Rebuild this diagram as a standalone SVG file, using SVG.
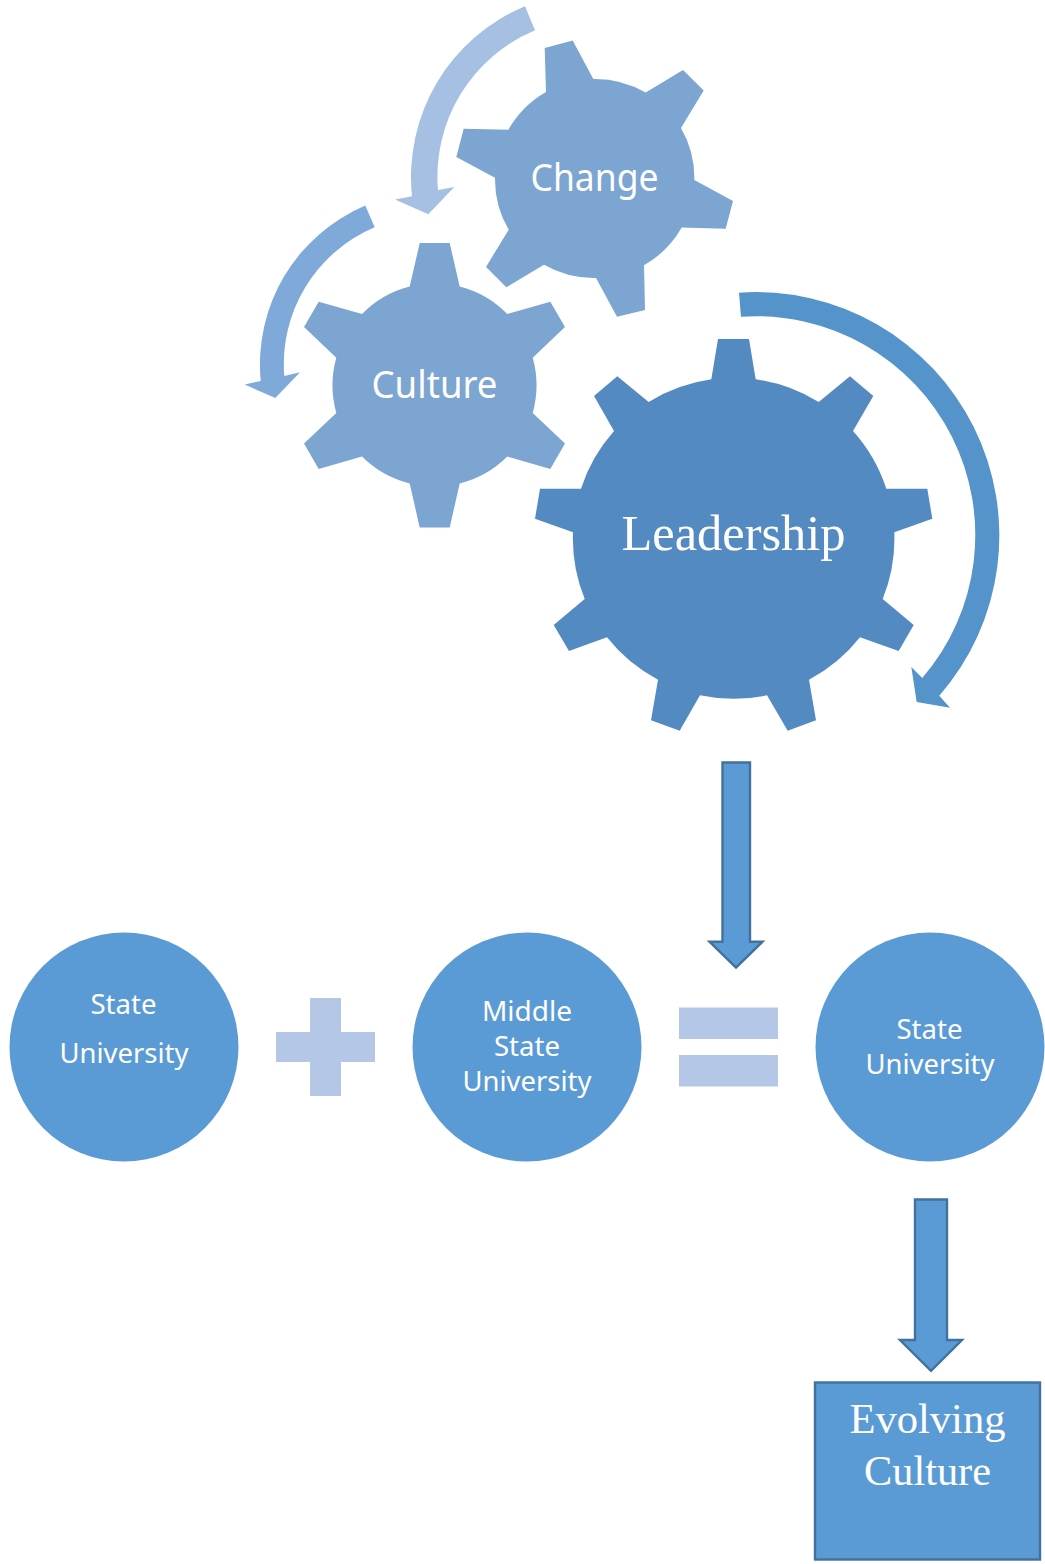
<svg xmlns="http://www.w3.org/2000/svg" width="1045" height="1564" viewBox="0 0 1045 1564">
<style>
.sans{font-family:"Noto Sans","Open Sans",sans-serif;fill:#fff;text-anchor:middle}
.serif{font-family:"Liberation Serif",serif;fill:#fff;text-anchor:middle}
.small{font-size:27.5px}
.gear{font-size:38px}
.circ{fill:#5b9bd5}
.sym{fill:#b4c7e7}
.block{fill:#5b9bd5;stroke:#41719c;stroke-width:2.4}
</style>
<rect width="1045" height="1564" fill="#fff"/>
<g id="connectors">
<path id="arrow-change" fill="#a5c0e3" d="M525 6.2A185 185 0 0 0 412 196.3L395 199.4L428.3 214.2L454.3 187L438 190A158.5 158.5 0 0 1 535 30.3Z"/>
<path id="arrow-culture" fill="#7fa9d8" d="M365.3 205.6A172.5 172.5 0 0 0 260.7 380.9L244.7 384.6L275.3 398L300 372.2L284.3 376A148.5 148.5 0 0 1 374.7 227.3Z"/>
<path id="arrow-leadership" fill="#5593cb" d="M739 292.7A243.5 243.5 0 0 1 939.3 695.7L950 707.7L916.7 702L911.3 667L922.3 678A219 219 0 0 0 741 316.7Z"/>
<path id="arrow-down-1" class="block" d="M722.5 762.5H750V941.7H762.5L736 967.5L709.5 941.7H722.5Z"/>
<path id="arrow-down-2" class="block" d="M915 1199.5H947V1340H962L931 1370.8L900 1340H915Z"/>
</g>
<g id="node-change">
<path fill="#7ca5d2" d="M544.7 47.9L572.7 40.6L593.3 78.9A99.6 99.6 0 0 1 645.7 92.6L683 69.9L703.7 90.6L681 128.1A99.6 99.6 0 0 1 694.3 180.1L733 201.1L725.7 228.7L681.7 227.6A99.6 99.6 0 0 1 644 265.2L645 309.9L617 316.8L596 277.9A99.6 99.6 0 0 1 544 264.8L506.3 287.2L486 266.9L508.7 229.7A99.6 99.6 0 0 1 495 177.7L456.3 157L463.7 128.8L508.3 129.8A99.6 99.6 0 0 1 546 91.9Z"/>
<text class="sans gear" x="594.5" y="191" textLength="128" lengthAdjust="spacingAndGlyphs">Change</text>
</g>
<g id="node-culture">
<path fill="#7ca5d2" d="M419.7 243.1H449.7L459.7 286.5A102 102 0 0 1 507.3 314L550.3 301.7L565 327.1L532.7 357.8A102 102 0 0 1 532.7 412.9L565 443.5L550.3 469L507.3 456.6A102 102 0 0 1 459.7 483.5L449.7 527.5H419.7L409.7 483.5A102 102 0 0 1 362 456.6L318.7 469L304 443.5L336.3 412.9A102 102 0 0 1 336.3 357.8L304 327.1L318.7 301.7L362 314A102 102 0 0 1 409.7 286.5Z"/>
<text class="sans gear" x="434.5" y="398" textLength="126" lengthAdjust="spacingAndGlyphs">Culture</text>
</g>
<g id="node-leadership">
<path fill="#538ac1" d="M718 339H749L755.7 379.3A160.6 160.6 0 0 1 818.7 402L850 376.3L873.3 396L853 431A160.6 160.6 0 0 1 886.3 488.7H927.3L932.3 518.7L894.3 532.3A160.6 160.6 0 0 1 882.7 599L913.7 625L898.7 651L860 637.3A160.6 160.6 0 0 1 809 679.7L816 720.3L787.7 730.7L767 695.3A160.6 160.6 0 0 1 700 695.3L679.7 730.7L651 720.3L658 679.7A160.6 160.6 0 0 1 607 637.3L569 651L553.7 625L584.7 599A160.6 160.6 0 0 1 573 532.3L535 518.7L540 488.7H581A160.6 160.6 0 0 1 614 431L594 396L617.3 376.3L648.7 402A160.6 160.6 0 0 1 711.3 379.3Z"/>
<text class="serif" x="733.5" y="550" font-size="50" textLength="224" lengthAdjust="spacingAndGlyphs">Leadership</text>
</g>
<g id="node-state-1">
<circle class="circ" cx="124" cy="1047" r="114.5"/>
<text class="sans small" x="123.5" y="1013.5" textLength="66" lengthAdjust="spacingAndGlyphs">State</text>
<text class="sans small" x="124" y="1062.5" textLength="129" lengthAdjust="spacingAndGlyphs">University</text>
</g>
<g id="plus">
<path class="sym" d="M310 998H341V1032H375V1062H341V1096H310V1062H276V1032H310Z"/>
</g>
<g id="node-middle-state">
<circle class="circ" cx="527" cy="1047" r="114.5"/>
<text class="sans small" x="527" y="1020.5" textLength="90" lengthAdjust="spacingAndGlyphs">Middle</text>
<text class="sans small" x="527" y="1055.5" textLength="66" lengthAdjust="spacingAndGlyphs">State</text>
<text class="sans small" x="527" y="1090.5" textLength="129" lengthAdjust="spacingAndGlyphs">University</text>
</g>
<g id="equals">
<rect class="sym" x="679" y="1007.5" width="99" height="31.5"/>
<rect class="sym" x="679" y="1055" width="99" height="31.5"/>
</g>
<g id="node-state-2">
<circle class="circ" cx="930" cy="1047" r="114.5"/>
<text class="sans small" x="929.5" y="1038.5" textLength="66" lengthAdjust="spacingAndGlyphs">State</text>
<text class="sans small" x="930" y="1073.5" textLength="129" lengthAdjust="spacingAndGlyphs">University</text>
</g>
<g id="node-evolving-culture">
<rect class="block" x="815" y="1382.5" width="225" height="177"/>
<text class="serif" x="927.5" y="1433" font-size="43" textLength="156" lengthAdjust="spacingAndGlyphs">Evolving</text>
<text class="serif" x="927.5" y="1485" font-size="43" textLength="127" lengthAdjust="spacingAndGlyphs">Culture</text>
</g>
</svg>
